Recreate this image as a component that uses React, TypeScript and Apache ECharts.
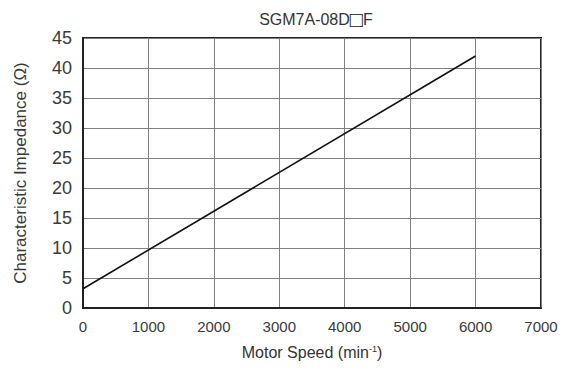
import React, { useEffect, useRef } from "react";
import * as echarts from "echarts";

const title = "SGM7A-08D";
const xTicks = [0, 1000, 2000, 3000, 4000, 5000, 6000, 7000];
const yTicks = [0, 5, 10, 15, 20, 25, 30, 35, 40, 45];
const speed = [0, 6000];
const impedance = [3.2, 42];

export default function App() {
  const ref = useRef<HTMLDivElement>(null);
  useEffect(() => {
    if (!ref.current) return;
    const chart = echarts.init(ref.current, null, { renderer: "svg" });
    const font = "'Liberation Sans', Arial, sans-serif";
    chart.setOption({
      animation: false,
      title: {
        text: "{t|" + title + "}{box|□}{t|F}",
        left: 311,
        textAlign: "center",
        top: 4,
        textStyle: {
          fontFamily: font,
          fontSize: 16,
          fontWeight: "normal",
          color: "#333",
          rich: {
            t: { fontSize: 16, color: "#333", fontFamily: font, lineHeight: 20 },
            box: { fontSize: 22, fontWeight: "bold", color: "#111", fontFamily: font, lineHeight: 20 },
          },
        },
      },
      grid: {
        left: 83,
        right: 31,
        top: 38,
        bottom: 62,
        show: true,
        borderColor: "#222",
        borderWidth: 2,
        backgroundColor: "transparent",
      },
      xAxis: {
        type: "value",
        min: xTicks[0],
        max: xTicks[xTicks.length - 1],
        interval: 1000,
        name: "Motor Speed (min{sup|-1})",
        nameLocation: "middle",
        nameGap: 36,
        nameTextStyle: {
          fontFamily: font,
          fontSize: 16,
          color: "#333",
          rich: {
            sup: { fontSize: 9, verticalAlign: "top", color: "#333", fontFamily: font },
          },
        },
        axisLine: { show: true, lineStyle: { color: "#222", width: 2 } },
        axisTick: { show: false },
        splitLine: { show: true, lineStyle: { color: "#808080", width: 1 } },
        axisLabel: {
          fontFamily: font,
          fontSize: 15,
          color: "#3a3a3a",
          margin: 11,
          formatter: (v: number) => String(v),
        },
      },
      yAxis: {
        type: "value",
        min: yTicks[0],
        max: yTicks[yTicks.length - 1],
        interval: 5,
        name: "Characteristic Impedance (Ω)",
        nameLocation: "middle",
        nameGap: 54,
        nameTextStyle: {
          fontFamily: font,
          fontSize: 17,
          color: "#3a3a3a",
        },
        axisLine: { show: true, lineStyle: { color: "#222", width: 2 } },
        axisTick: { show: false },
        splitLine: { show: true, lineStyle: { color: "#808080", width: 1 } },
        axisLabel: {
          fontFamily: font,
          fontSize: 18,
          color: "#3a3a3a",
          margin: 11,
        },
      },
      series: [
        {
          type: "line",
          data: speed.map((s, i) => [s, impedance[i]]),
          showSymbol: false,
          lineStyle: { color: "#111", width: 1.6 },
        },
      ],
    });
    return () => chart.dispose();
  }, []);
  return <div ref={ref} style={{ width: 572, height: 370, margin: -8 }} />;
}
